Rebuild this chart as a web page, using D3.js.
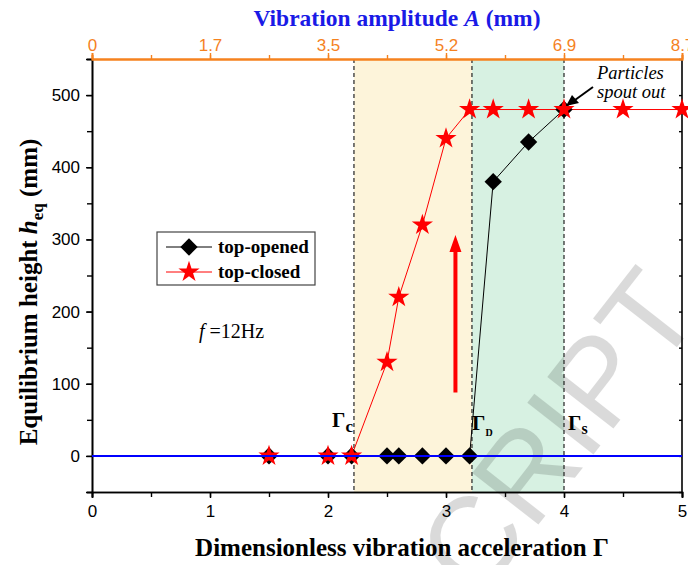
<!DOCTYPE html>
<html><head><meta charset="utf-8">
<script src="https://cdn.jsdelivr.net/npm/d3@7"></script>
<style>body{margin:0;background:#fff;} svg{display:block;}</style>
</head><body>
<svg id="c" width="688" height="565"></svg>
<script>
// ---- data ----
const gammaOpened = [1.5, 2.0, 2.2, 2.5, 2.6, 2.8, 3.0, 3.2, 3.4, 3.7, 4.0];
const heightOpened = [0, 0, 0, 0, 0, 0, 0, 0, 380, 435, 480];
const gammaClosed = [1.5, 2.0, 2.2, 2.5, 2.6, 2.8, 3.0, 3.2, 3.4, 3.7, 4.0, 4.5, 5.0];
const heightClosed = [0, 0, 0, 130, 220, 320, 440, 480, 480, 480, 480, 480, 480];
const xTicks = [0, 1, 2, 3, 4, 5];
const yTicks = [0, 100, 200, 300, 400, 500];
const topTickLabels = ["0", "1.7", "3.5", "5.2", "6.9", "8.7"];
const gammaC = 2.22, gammaD = 3.22, gammaS = 4.0;
const arrowGamma = 3.08, arrowFrom = 88, arrowTo = 306;

(function () {
const svg = d3.select("#c");
const L = 92, R = 682, T = 59, B = 492;
const x = d3.scaleLinear().domain([0, 5]).range([L, R]);
const y = d3.scaleLinear().domain([-50, 550]).range([B, T]);
const serif = "'Liberation Serif','Times New Roman',serif";
const sans = "'Liberation Sans',Arial,sans-serif";
const orange = "#f5821f";

// regions
svg.append("rect").attr("x", x(gammaC)).attr("y", T).attr("width", x(gammaD) - x(gammaC)).attr("height", B - T).attr("fill", "#fdf4da");
svg.append("rect").attr("x", x(gammaD)).attr("y", T).attr("width", x(gammaS) - x(gammaD)).attr("height", B - T).attr("fill", "#d7f1e2");

// watermark (behind data)
svg.append("text").attr("transform", "translate(478,602) rotate(-52)")
  .attr("font-family", sans).attr("font-size", 122).attr("fill", "#000").attr("opacity", 0.14)
  .text("CRIPT");

[gammaC, gammaD, gammaS].forEach(g => {
  svg.append("line").attr("x1", x(g)).attr("x2", x(g)).attr("y1", T).attr("y2", B)
    .attr("stroke", "#222").attr("stroke-width", 1.2).attr("stroke-dasharray", "4,3");
});

// axes
const minorX = d3.range(0, 5.01, 0.5);
const minorY = d3.range(-50, 551, 50);
const bottomAx = svg.append("g").attr("transform", `translate(0,${B})`)
  .call(d3.axisBottom(x).tickValues(minorX).tickSize(5).tickFormat(""));
bottomAx.append("g").call(d3.axisBottom(x).tickValues(xTicks).tickSize(6).tickFormat(d3.format("d")));
const leftAx = svg.append("g").attr("transform", `translate(${L},0)`)
  .call(d3.axisLeft(y).tickValues(minorY).tickSize(5).tickFormat(""));
leftAx.append("g").call(d3.axisLeft(y).tickValues(yTicks).tickSize(6).tickFormat(d3.format("d")));
const rightAx = svg.append("g").attr("transform", `translate(${R},0)`)
  .call(d3.axisLeft(y).tickValues(minorY).tickSize(3).tickFormat(""));
const topAx = svg.append("g").attr("transform", `translate(0,${T})`)
  .call(d3.axisTop(x).tickValues(minorX).tickSize(4).tickFormat(""));
topAx.append("g").call(d3.axisTop(x).tickValues(xTicks).tickSize(6).tickFormat((d, i) => topTickLabels[i]));
[bottomAx, leftAx, rightAx].forEach(g => {
  g.selectAll("path.domain").attr("stroke", "#000").attr("stroke-width", 1.6);
  g.selectAll(".tick line").attr("stroke", "#000").attr("stroke-width", 1.4);
  g.selectAll("text").attr("font-family", sans).attr("font-size", 17).attr("fill", "#000");
});
rightAx.selectAll("path.domain").attr("d", `M0,${T}V${B}`);
topAx.selectAll("path.domain").attr("stroke", orange).attr("stroke-width", 1.8);
topAx.selectAll(".tick line").attr("stroke", orange).attr("stroke-width", 1.4);
topAx.selectAll("text").attr("font-family", sans).attr("font-size", 17).attr("fill", orange);
bottomAx.selectAll("text").attr("dy", "0.95em").attr("y", 9);
leftAx.selectAll("text").attr("x", -12);
topAx.selectAll("text").attr("y", -8);

// titles
svg.append("text").attr("x", 402).attr("y", 556).attr("text-anchor", "middle")
  .attr("font-family", serif).attr("font-weight", "bold").attr("font-size", 25)
  .text("Dimensionless vibration acceleration Γ");
const tt = svg.append("text").attr("x", 397).attr("y", 26).attr("text-anchor", "middle")
  .attr("font-family", serif).attr("font-weight", "bold").attr("font-size", 23.5).attr("fill", "#1a1ae6");
tt.append("tspan").text("Vibration amplitude ");
tt.append("tspan").attr("font-style", "italic").text("A");
tt.append("tspan").text(" (mm)");
const yt = svg.append("text").attr("transform", "translate(37,292) rotate(-90)").attr("text-anchor", "middle")
  .attr("font-family", serif).attr("font-weight", "bold").attr("font-size", 25);
yt.append("tspan").text("Equilibrium height ");
yt.append("tspan").attr("font-style", "italic").text("h");
yt.append("tspan").attr("font-size", 17).attr("dy", 6).text("eq");
yt.append("tspan").attr("dy", -6).text(" (mm)");

// series lines
const lineO = d3.line().x(i => x(gammaOpened[i])).y(i => y(heightOpened[i]));
const lineC = d3.line().x(i => x(gammaClosed[i])).y(i => y(heightClosed[i]));
svg.append("path").attr("d", lineO(d3.range(gammaOpened.length))).attr("fill", "none").attr("stroke", "#000").attr("stroke-width", 1);
svg.append("path").attr("d", lineC(d3.range(gammaClosed.length))).attr("fill", "none").attr("stroke", "#ff0000").attr("stroke-width", 1);

const diamond = d3.symbol().type(d3.symbolSquare).size(150)();
const star = d3.symbol().type(d3.symbolStar).size(140)();
svg.append("g").selectAll("path").data(d3.range(gammaOpened.length)).join("path")
  .attr("d", diamond).attr("fill", "#000")
  .attr("transform", i => `translate(${x(gammaOpened[i])},${y(heightOpened[i])}) rotate(45)`);
svg.append("g").selectAll("path").data(d3.range(gammaClosed.length)).join("path")
  .attr("d", star).attr("fill", "#ff0000")
  .attr("transform", i => `translate(${x(gammaClosed[i])},${y(heightClosed[i])})`);

// zero line
svg.append("line").attr("x1", L).attr("x2", R).attr("y1", y(0)).attr("y2", y(0)).attr("stroke", "#0000ff").attr("stroke-width", 2);

// red arrow
const ax = x(arrowGamma), ay1 = y(arrowFrom), ay2 = y(arrowTo);
svg.append("line").attr("x1", ax).attr("x2", ax).attr("y1", ay1).attr("y2", ay2 + 12).attr("stroke", "#ff0000").attr("stroke-width", 4);
svg.append("path").attr("d", `M${ax},${ay2}L${ax - 6},${ay2 + 17}L${ax + 6},${ay2 + 17}Z`).attr("fill", "#ff0000");

// Gamma annotations
function gLabel(gx, gy, sub, subSize, subDy) {
  const t = svg.append("text").attr("x", gx).attr("y", gy).attr("font-family", serif).attr("font-weight", "bold").attr("font-size", 21);
  t.append("tspan").text("Γ");
  t.append("tspan").attr("font-size", subSize).attr("dy", subDy).text(sub);
}
gLabel(332, 427, "c", 17, 5);
gLabel(472, 430, "D", 10, 6);
gLabel(568, 430, "s", 16, 4);

// f = 12Hz
const ft = svg.append("text").attr("x", 199).attr("y", 338).attr("font-family", serif).attr("font-size", 20);
ft.append("tspan").attr("font-style", "italic").text("f");
ft.append("tspan").text(" =12Hz");

// Particles spout out
svg.append("text").attr("x", 597).attr("y", 79).attr("font-family", serif).attr("font-style", "italic").attr("font-size", 18.5).text("Particles");
svg.append("text").attr("x", 597).attr("y", 98).attr("font-family", serif).attr("font-style", "italic").attr("font-size", 18.5).text("spout out");
svg.append("line").attr("x1", 593).attr("y1", 87).attr("x2", 575).attr("y2", 100).attr("stroke", "#000").attr("stroke-width", 2);
svg.append("path").attr("d", "M566,106L572,95L579,103Z").attr("fill", "#000");

// legend
const lg = svg.append("g");
lg.append("rect").attr("x", 157).attr("y", 232).attr("width", 158).attr("height", 53).attr("fill", "#fff").attr("stroke", "#444").attr("stroke-width", 1.2);
[["top-opened", "#000", diamond, 45], ["top-closed", "#ff0000", star, 0]].forEach((e, i) => {
  const yy = 247 + i * 25;
  lg.append("line").attr("x1", 166).attr("x2", 212).attr("y1", yy).attr("y2", yy).attr("stroke", e[1]).attr("stroke-width", 1);
  lg.append("path").attr("d", e[2]).attr("fill", e[1]).attr("transform", `translate(189,${yy}) rotate(${e[3]})`);
  lg.append("text").attr("x", 218).attr("y", yy + 6).attr("font-family", serif).attr("font-weight", "bold").attr("font-size", 19).text(e[0]);
});
})();
</script>
</body></html>
